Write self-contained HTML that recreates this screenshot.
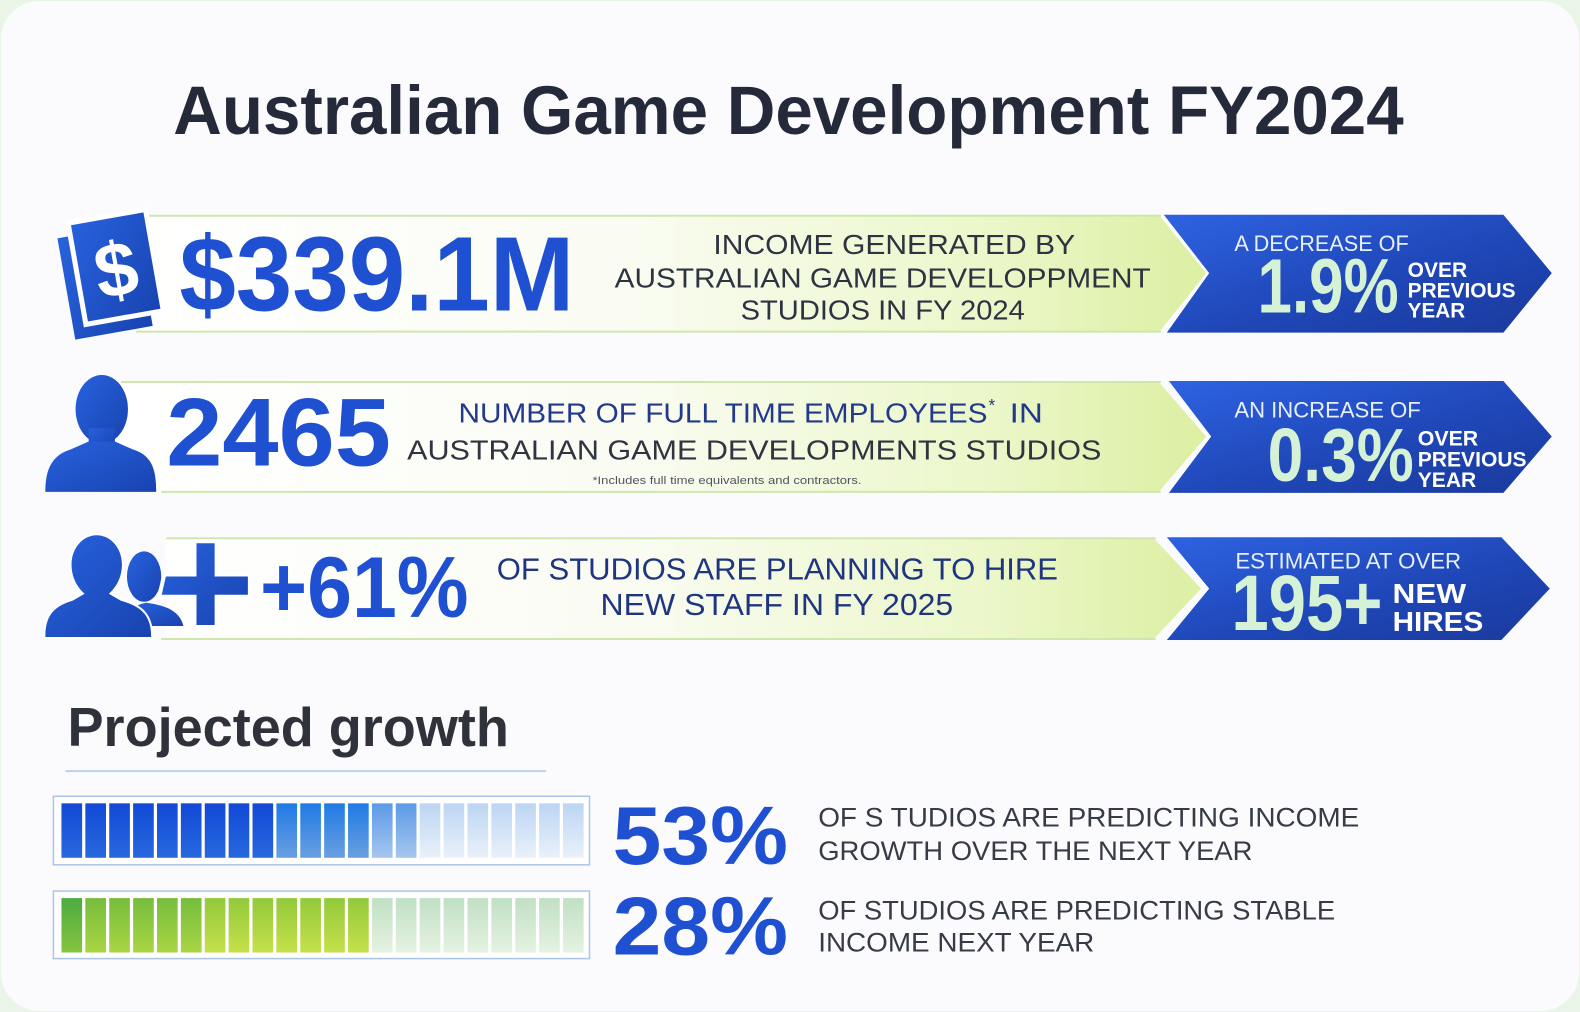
<!DOCTYPE html>
<html><head><meta charset="utf-8"><style>
html,body{margin:0;padding:0;background:#fbfbfd;}
svg{display:block;}
text{font-family:"Liberation Sans",sans-serif;}
</style></head><body>
<svg width="1580" height="1012" viewBox="0 0 1568 1004" preserveAspectRatio="none" xmlns="http://www.w3.org/2000/svg">
<defs>
<linearGradient id="ban" gradientUnits="userSpaceOnUse" x1="140" y1="0" x2="1197" y2="0">
<stop offset="0" stop-color="#ffffff"/><stop offset="0.45" stop-color="#fafcf3"/><stop offset="0.8" stop-color="#ebf7c9"/><stop offset="1" stop-color="#dcefa2"/>
</linearGradient>
<linearGradient id="chev" x1="0" y1="0" x2="1" y2="1">
<stop offset="0" stop-color="#2e63e2"/><stop offset="0.55" stop-color="#1f47b8"/><stop offset="1" stop-color="#1a3a9c"/>
</linearGradient>
<linearGradient id="ico" x1="0" y1="0" x2="1" y2="1">
<stop offset="0" stop-color="#2862de"/><stop offset="1" stop-color="#1843b0"/>
</linearGradient>
<linearGradient id="bD" x1="0" y1="0" x2="0" y2="1"><stop offset="0" stop-color="#1249d6"/><stop offset="1" stop-color="#2768de"/></linearGradient>
<linearGradient id="bM" x1="0" y1="0" x2="0" y2="1"><stop offset="0" stop-color="#1f7ae6"/><stop offset="1" stop-color="#6a9fe0"/></linearGradient>
<linearGradient id="bL" x1="0" y1="0" x2="0" y2="1"><stop offset="0" stop-color="#5c9ae8"/><stop offset="1" stop-color="#a6c6ee"/></linearGradient>
<linearGradient id="bP" x1="0" y1="0" x2="0" y2="1"><stop offset="0" stop-color="#bcd5f3"/><stop offset="1" stop-color="#e9f1fa"/></linearGradient>
<linearGradient id="g1" x1="0" y1="0" x2="0" y2="1"><stop offset="0" stop-color="#4cab40"/><stop offset="1" stop-color="#86c440"/></linearGradient>
<linearGradient id="g2" x1="0" y1="0" x2="0" y2="1"><stop offset="0" stop-color="#76bd3c"/><stop offset="1" stop-color="#aad544"/></linearGradient>
<linearGradient id="g3" x1="0" y1="0" x2="0" y2="1"><stop offset="0" stop-color="#92c93b"/><stop offset="1" stop-color="#c6e04a"/></linearGradient>
<linearGradient id="gP" x1="0" y1="0" x2="0" y2="1"><stop offset="0" stop-color="#c0e0c4"/><stop offset="1" stop-color="#e6f2e2"/></linearGradient>
</defs>

<rect x="0" y="0" width="1568" height="1004" fill="#e9f6e7"/>
<rect x="1" y="1" width="1566" height="1002" rx="38" fill="#fbfbfd"/>

<!-- Title -->
<text x="172" y="133" font-size="68" font-weight="bold" fill="#252a3a" textLength="1221" lengthAdjust="spacingAndGlyphs">Australian Game Development FY2024</text>

<!-- ROW 1 -->
<polygon points="140,213 1150,213 1197,271 1150,330 140,330" fill="url(#ban)"/>
<line x1="145" y1="214" x2="1152" y2="214" stroke="#cfe7ac" stroke-width="2"/>
<line x1="135" y1="329" x2="1152" y2="329" stroke="#cfe7ac" stroke-width="2"/>
<polygon points="1155,213 1492,213 1540,271 1492,330 1158,330 1200,271" fill="url(#chev)"/>

<g transform="rotate(-10 114 266)">
<rect x="63" y="227" width="78" height="102" fill="url(#ico)"/>
<rect x="76" y="214" width="78" height="102" fill="url(#ico)" stroke="#ffffff" stroke-width="5"/>
<text x="115" y="294" font-size="76" font-weight="bold" fill="#ffffff" text-anchor="middle">$</text>
</g>

<text x="178" y="308" font-size="105" font-weight="bold" fill="#1f50d2" textLength="392" lengthAdjust="spacingAndGlyphs">$339.1M</text>

<text x="708" y="252" font-size="28" fill="#2d3340" textLength="359" lengthAdjust="spacingAndGlyphs">INCOME GENERATED BY</text>
<text x="610" y="285" font-size="28" fill="#2d3340" textLength="532" lengthAdjust="spacingAndGlyphs">AUSTRALIAN GAME DEVELOPPMENT</text>
<text x="735" y="317" font-size="28" fill="#2d3340" textLength="282" lengthAdjust="spacingAndGlyphs">STUDIOS IN FY 2024</text>

<text x="1225" y="249" font-size="22" fill="#e8efff" textLength="173" lengthAdjust="spacingAndGlyphs">A DECREASE OF</text>
<text x="1248" y="310" font-size="76" font-weight="bold" fill="#d5f2d6" textLength="140" lengthAdjust="spacingAndGlyphs">1.9%</text>
<text x="1397" y="275" font-size="21" font-weight="bold" fill="#ffffff" textLength="59" lengthAdjust="spacingAndGlyphs">OVER</text>
<text x="1397" y="295" font-size="21" font-weight="bold" fill="#ffffff" textLength="107" lengthAdjust="spacingAndGlyphs">PREVIOUS</text>
<text x="1397" y="315" font-size="21" font-weight="bold" fill="#ffffff" textLength="57" lengthAdjust="spacingAndGlyphs">YEAR</text>

<!-- ROW 2 -->
<polygon points="120,379 1150,379 1197,433 1150,488 120,488" fill="url(#ban)"/>
<line x1="120" y1="379" x2="1152" y2="379" stroke="#cfe7ac" stroke-width="2"/>
<line x1="160" y1="488" x2="1152" y2="488" stroke="#cfe7ac" stroke-width="2"/>
<polygon points="1160,378 1492,378 1540,433 1492,489 1160,489 1202,433" fill="url(#chev)"/>

<g fill="url(#ico)">
<ellipse cx="101" cy="406" rx="26" ry="34"/>
<rect x="88" y="425" width="26" height="18"/>
<path d="M45,488 C45,468 50,452 70,446 L88,438 L114,438 L132,446 C152,452 155,468 155,488 Z"/>
</g>

<text x="165" y="462" font-size="96" font-weight="bold" fill="#1f50d2" textLength="223" lengthAdjust="spacingAndGlyphs">2465</text>

<text x="455" y="419" font-size="28" fill="#233a8c" textLength="525" lengthAdjust="spacingAndGlyphs">NUMBER OF FULL TIME EMPLOYEES</text>
<text x="981" y="408" font-size="17" fill="#233a8c">*</text>
<text x="1002" y="419" font-size="28" fill="#233a8c" textLength="33" lengthAdjust="spacingAndGlyphs">IN</text>
<text x="404" y="456" font-size="28" fill="#2f3440" textLength="689" lengthAdjust="spacingAndGlyphs">AUSTRALIAN GAME DEVELOPMENTS STUDIOS</text>
<text x="588" y="480" font-size="11" fill="#505560" textLength="267" lengthAdjust="spacingAndGlyphs">*Includes full time equivalents and contractors.</text>

<text x="1225" y="414" font-size="22" fill="#e8efff" textLength="185" lengthAdjust="spacingAndGlyphs">AN INCREASE OF</text>
<text x="1258" y="477" font-size="75" font-weight="bold" fill="#d5f2d6" textLength="145" lengthAdjust="spacingAndGlyphs">0.3%</text>
<text x="1407" y="442" font-size="21" font-weight="bold" fill="#ffffff" textLength="60" lengthAdjust="spacingAndGlyphs">OVER</text>
<text x="1407" y="463" font-size="21" font-weight="bold" fill="#ffffff" textLength="108" lengthAdjust="spacingAndGlyphs">PREVIOUS</text>
<text x="1407" y="483" font-size="21" font-weight="bold" fill="#ffffff" textLength="58" lengthAdjust="spacingAndGlyphs">YEAR</text>

<!-- ROW 3 -->
<polygon points="165,534 1145,534 1192,584 1145,634 165,634" fill="url(#ban)"/>
<line x1="165" y1="534" x2="1147" y2="534" stroke="#cfe7ac" stroke-width="2"/>
<line x1="160" y1="634" x2="1147" y2="634" stroke="#cfe7ac" stroke-width="2"/>
<polygon points="1158,533 1490,533 1538,584 1490,635 1158,635 1200,584" fill="url(#chev)"/>

<g fill="url(#ico)">
<ellipse cx="143" cy="572" rx="17" ry="25"/>
<path d="M124,621 C126,606 134,600 145,598 C160,600 178,604 182,621 Z"/>
</g>
<g fill="url(#ico)" stroke="#ffffff" stroke-width="4">
<path d="M163,570 L193,570 L193,537 L215,537 L215,570 L248,570 L248,592 L215,592 L215,622 L193,622 L193,592 L158,592 Z"/>
</g>
<g fill="url(#ico)" stroke="#ffffff" stroke-width="4" paint-order="stroke">
<path d="M45,632 C45,612 52,602 72,596 L84,589 C76,582 71,572 71,560 C71,544 82,531 96,531 C110,531 121,544 121,560 C121,572 116,582 108,589 L120,596 C142,602 150,612 150,632 Z"/>
</g>

<text x="258" y="612" font-size="86" font-weight="bold" fill="#1f50d2" textLength="207" lengthAdjust="spacingAndGlyphs">+61%</text>

<text x="493" y="575" font-size="30" fill="#1f3580" textLength="557" lengthAdjust="spacingAndGlyphs">OF STUDIOS ARE PLANNING TO HIRE</text>
<text x="596" y="610" font-size="30" fill="#1f3580" textLength="350" lengthAdjust="spacingAndGlyphs">NEW STAFF IN FY 2025</text>

<text x="1226" y="564" font-size="22" fill="#e8efff" textLength="224" lengthAdjust="spacingAndGlyphs">ESTIMATED AT OVER</text>
<text x="1222" y="625" font-size="78" font-weight="bold" fill="#d5f2d6" textLength="150" lengthAdjust="spacingAndGlyphs">195+</text>
<text x="1382" y="598" font-size="28" font-weight="bold" fill="#ffffff" textLength="73" lengthAdjust="spacingAndGlyphs">NEW</text>
<text x="1382" y="626" font-size="28" font-weight="bold" fill="#ffffff" textLength="90" lengthAdjust="spacingAndGlyphs">HIRES</text>

<!-- Projected growth -->
<text x="67" y="740" font-size="54" font-weight="bold" fill="#2f323b" textLength="438" lengthAdjust="spacingAndGlyphs">Projected growth</text>
<line x1="65" y1="765" x2="542" y2="765" stroke="#bcd2ee" stroke-width="2"/>

<rect x="53" y="790" width="532" height="68" fill="#ffffff" stroke="#abc4e8" stroke-width="1.5"/>
<g>
<rect x="61" y="797" width="20.5" height="54" fill="url(#bD)"/>
<rect x="84.7" y="797" width="20.5" height="54" fill="url(#bD)"/>
<rect x="108.4" y="797" width="20.5" height="54" fill="url(#bD)"/>
<rect x="132.1" y="797" width="20.5" height="54" fill="url(#bD)"/>
<rect x="155.8" y="797" width="20.5" height="54" fill="url(#bD)"/>
<rect x="179.5" y="797" width="20.5" height="54" fill="url(#bD)"/>
<rect x="203.2" y="797" width="20.5" height="54" fill="url(#bD)"/>
<rect x="226.9" y="797" width="20.5" height="54" fill="url(#bD)"/>
<rect x="250.6" y="797" width="20.5" height="54" fill="url(#bD)"/>
<rect x="274.3" y="797" width="20.5" height="54" fill="url(#bM)"/>
<rect x="298" y="797" width="20.5" height="54" fill="url(#bM)"/>
<rect x="321.7" y="797" width="20.5" height="54" fill="url(#bM)"/>
<rect x="345.4" y="797" width="20.5" height="54" fill="url(#bM)"/>
<rect x="369.1" y="797" width="20.5" height="54" fill="url(#bL)"/>
<rect x="392.8" y="797" width="20.5" height="54" fill="url(#bL)"/>
<rect x="416.5" y="797" width="20.5" height="54" fill="url(#bP)"/>
<rect x="440.2" y="797" width="20.5" height="54" fill="url(#bP)"/>
<rect x="463.9" y="797" width="20.5" height="54" fill="url(#bP)"/>
<rect x="487.6" y="797" width="20.5" height="54" fill="url(#bP)"/>
<rect x="511.3" y="797" width="20.5" height="54" fill="url(#bP)"/>
<rect x="535" y="797" width="20.5" height="54" fill="url(#bP)"/>
<rect x="558.7" y="797" width="20.5" height="54" fill="url(#bP)"/>
</g>
<text x="608" y="857" font-size="82" font-weight="bold" fill="#1f50d2" textLength="174" lengthAdjust="spacingAndGlyphs">53%</text>
<text x="812" y="820" font-size="27" fill="#363b46" textLength="537" lengthAdjust="spacingAndGlyphs">OF S TUDIOS ARE PREDICTING INCOME</text>
<text x="812" y="853" font-size="27" fill="#363b46" textLength="431" lengthAdjust="spacingAndGlyphs">GROWTH OVER THE NEXT YEAR</text>

<rect x="53" y="884" width="532" height="67" fill="#ffffff" stroke="#abc4e8" stroke-width="1.5"/>
<g>
<rect x="61" y="891" width="20.5" height="54" fill="url(#g1)"/>
<rect x="84.7" y="891" width="20.5" height="54" fill="url(#g2)"/>
<rect x="108.4" y="891" width="20.5" height="54" fill="url(#g2)"/>
<rect x="132.1" y="891" width="20.5" height="54" fill="url(#g2)"/>
<rect x="155.8" y="891" width="20.5" height="54" fill="url(#g2)"/>
<rect x="179.5" y="891" width="20.5" height="54" fill="url(#g2)"/>
<rect x="203.2" y="891" width="20.5" height="54" fill="url(#g3)"/>
<rect x="226.9" y="891" width="20.5" height="54" fill="url(#g3)"/>
<rect x="250.6" y="891" width="20.5" height="54" fill="url(#g3)"/>
<rect x="274.3" y="891" width="20.5" height="54" fill="url(#g3)"/>
<rect x="298" y="891" width="20.5" height="54" fill="url(#g3)"/>
<rect x="321.7" y="891" width="20.5" height="54" fill="url(#g3)"/>
<rect x="345.4" y="891" width="20.5" height="54" fill="url(#g3)"/>
<rect x="369.1" y="891" width="20.5" height="54" fill="url(#gP)"/>
<rect x="392.8" y="891" width="20.5" height="54" fill="url(#gP)"/>
<rect x="416.5" y="891" width="20.5" height="54" fill="url(#gP)"/>
<rect x="440.2" y="891" width="20.5" height="54" fill="url(#gP)"/>
<rect x="463.9" y="891" width="20.5" height="54" fill="url(#gP)"/>
<rect x="487.6" y="891" width="20.5" height="54" fill="url(#gP)"/>
<rect x="511.3" y="891" width="20.5" height="54" fill="url(#gP)"/>
<rect x="535" y="891" width="20.5" height="54" fill="url(#gP)"/>
<rect x="558.7" y="891" width="20.5" height="54" fill="url(#gP)"/>
</g>
<text x="608" y="947" font-size="82" font-weight="bold" fill="#1f50d2" textLength="174" lengthAdjust="spacingAndGlyphs">28%</text>
<text x="812" y="912" font-size="27" fill="#363b46" textLength="513" lengthAdjust="spacingAndGlyphs">OF STUDIOS ARE PREDICTING STABLE</text>
<text x="812" y="944" font-size="27" fill="#363b46" textLength="274" lengthAdjust="spacingAndGlyphs">INCOME NEXT YEAR</text>
</svg>
</body></html>
